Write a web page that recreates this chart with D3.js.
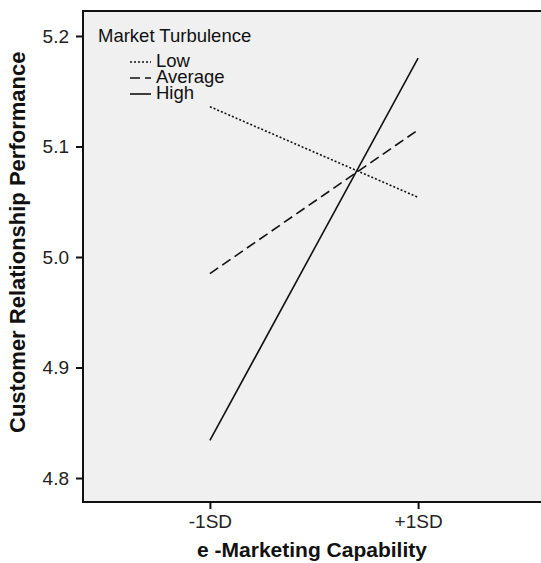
<!DOCTYPE html>
<html>
<head>
<meta charset="utf-8">
<script src="https://cdn.jsdelivr.net/npm/d3@7"></script>
<style>
  body { margin: 0; background: #fff; }
  svg { display: block; font-family: "Liberation Sans", Arial, sans-serif; }
</style>
</head>
<body>
<div id="chart"></div>
<script>
const width = 541;
const height = 563;

// data
const categories = ["-1SD", "+1SD"];
const seriesNames = ["Low", "Average", "High"];
const lowValues = [5.136, 5.054];
const averageValues = [4.985, 5.115];
const highValues = [4.834, 5.180];
const yTicks = [4.8, 4.9, 5.0, 5.1, 5.2];

const series = [
    { name: seriesNames[0], values: lowValues, dash: "2,2" },
    { name: seriesNames[1], values: averageValues, dash: "10,5" },
    { name: seriesNames[2], values: highValues, dash: null }
];

const plot = { left: 83, top: 11, right: 541, bottom: 502 };

let svg = d3.select("#chart").append("svg")
    .attr("width", width)
    .attr("height", height);

let x = d3.scalePoint()
    .domain(categories)
    .range([plot.left + 2, plot.right + 2])
    .padding(0.6);

let y = d3.scaleLinear()
    .domain([4.7783, 5.2226])
    .range([plot.bottom, plot.top]);

// panel background
svg.append("rect")
    .attr("x", plot.left)
    .attr("y", plot.top)
    .attr("width", plot.right - plot.left)
    .attr("height", plot.bottom - plot.top)
    .attr("fill", "#f0f0f0");

// frame: top, left, bottom
svg.append("path")
    .attr("d", `M${plot.right},${plot.top}H${plot.left}V${plot.bottom}H${plot.right}`)
    .attr("fill", "none")
    .attr("stroke", "#111")
    .attr("stroke-width", 2);

// y axis
let yAxis = svg.append("g")
    .attr("transform", `translate(${plot.left},0)`)
    .call(d3.axisLeft(y).tickValues(yTicks).tickFormat(d3.format(".1f")).tickSize(7).tickPadding(7));
yAxis.select(".domain").remove();
yAxis.selectAll("line").attr("stroke", "#111").attr("stroke-width", 2);
yAxis.selectAll("text")
    .attr("font-size", 19)
    .attr("font-family", "Liberation Sans, Arial, sans-serif")
    .attr("fill", "#222");

// x axis
let xAxis = svg.append("g")
    .attr("transform", `translate(0,${plot.bottom})`)
    .call(d3.axisBottom(x).tickSize(7).tickPadding(6));
xAxis.select(".domain").remove();
xAxis.selectAll("line").attr("stroke", "#111").attr("stroke-width", 2);
xAxis.selectAll("text")
    .attr("font-size", 19)
    .attr("font-family", "Liberation Sans, Arial, sans-serif")
    .attr("fill", "#222");

// axis titles
svg.append("text")
    .attr("x", 312)
    .attr("y", 557)
    .attr("text-anchor", "middle")
    .attr("font-size", 21)
    .attr("font-weight", "bold")
    .attr("fill", "#111")
    .text("e -Marketing Capability");

svg.append("text")
    .attr("transform", "translate(25,433) rotate(-90)")
    .attr("text-anchor", "start")
    .attr("font-size", 22)
    .attr("font-weight", "bold")
    .attr("fill", "#111")
    .text("Customer Relationship Performance");

// lines
let line = d3.line()
    .x((d, i) => x(categories[i]))
    .y(d => y(d));

svg.append("g").selectAll("path")
    .data(series)
    .enter()
    .append("path")
    .attr("d", d => line(d.values))
    .attr("fill", "none")
    .attr("stroke", "#111")
    .attr("stroke-width", 1.6)
    .attr("stroke-dasharray", d => d.dash);

// legend
let legend = svg.append("g");
legend.append("text")
    .attr("x", 98)
    .attr("y", 42)
    .attr("font-size", 18.5)
    .attr("fill", "#111")
    .text("Market Turbulence");

let items = legend.selectAll(".item")
    .data(series)
    .enter()
    .append("g")
    .classed("item", true)
    .attr("transform", (d, i) => `translate(0,${67 + i * 16})`);
items.append("line")
    .attr("x1", 130)
    .attr("x2", 151)
    .attr("y1", -5)
    .attr("y2", -5)
    .attr("stroke", "#111")
    .attr("stroke-width", 1.6)
    .attr("stroke-dasharray", d => d.dash);
items.append("text")
    .attr("x", 156)
    .attr("y", 0)
    .attr("font-size", 18.5)
    .attr("fill", "#111")
    .text(d => d.name);
</script>
</body>
</html>
